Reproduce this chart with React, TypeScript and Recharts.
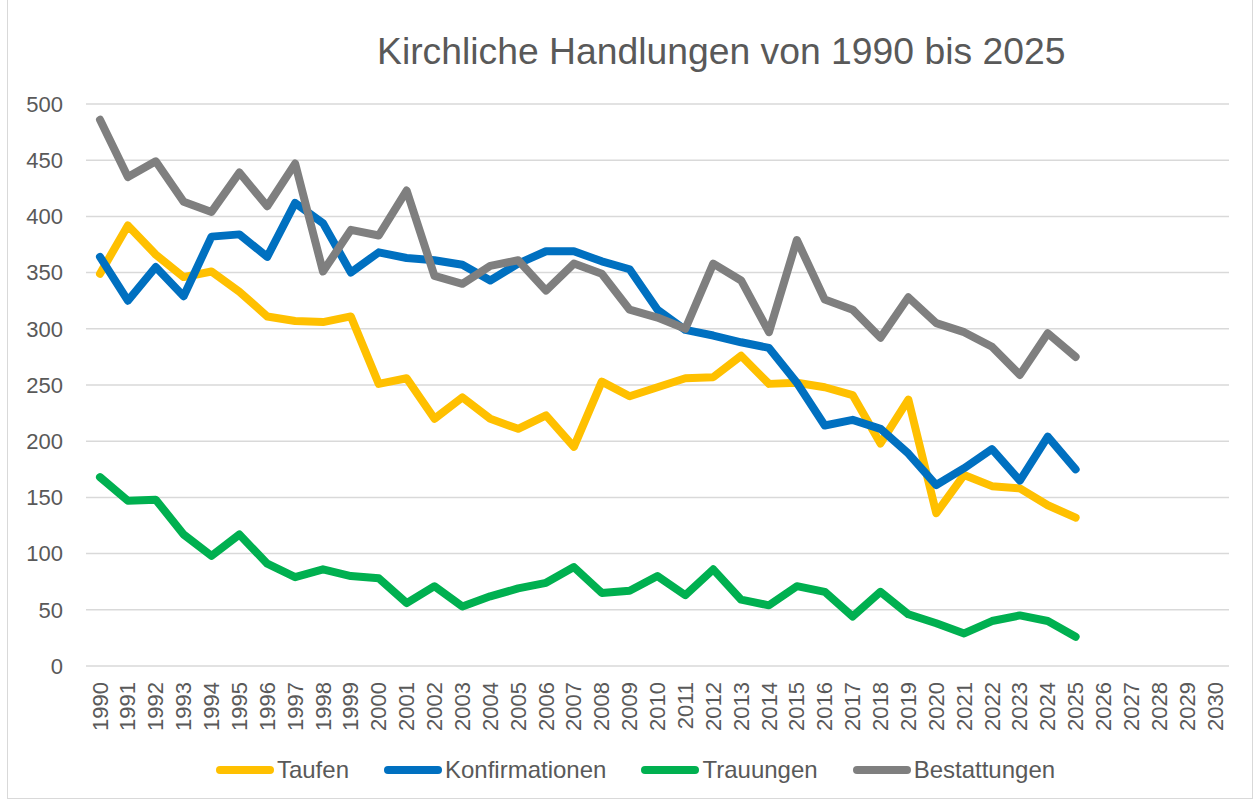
import { LineChart, Line, XAxis, YAxis, CartesianGrid, Legend } from "recharts";

const years = [
  "1990", "1991", "1992", "1993", "1994", "1995", "1996", "1997", "1998", "1999",
  "2000", "2001", "2002", "2003", "2004", "2005", "2006", "2007", "2008", "2009",
  "2010", "2011", "2012", "2013", "2014", "2015", "2016", "2017", "2018", "2019",
  "2020", "2021", "2022", "2023", "2024", "2025", "2026", "2027", "2028", "2029", "2030",
];

const taufen = [
  349, 392, 366, 346, 351, 333, 311, 307, 306, 311,
  251, 256, 220, 239, 220, 211, 223, 195, 253, 240,
  248, 256, 257, 276, 251, 252, 248, 241, 198, 237,
  136, 170, 160, 158, 143, 132,
];

const konfirmationen = [
  364, 325, 355, 329, 382, 384, 364, 412, 394, 350,
  368, 363, 361, 357, 343, 358, 369, 369, 360, 353,
  317, 299, 294, 288, 283, 252, 214, 219, 211, 189,
  161, 176, 193, 165, 204, 175,
];

const trauungen = [
  168, 147, 148, 117, 98, 117, 91, 79, 86, 80,
  78, 56, 71, 53, 62, 69, 74, 88, 65, 67,
  80, 63, 86, 59, 54, 71, 66, 44, 66, 46,
  38, 29, 40, 45, 40, 26,
];

const bestattungen = [
  486, 435, 449, 413, 404, 439, 409, 447, 351, 388,
  383, 423, 347, 340, 356, 361, 334, 358, 349, 317,
  310, 300, 358, 343, 297, 379, 326, 317, 292, 328,
  305, 297, 284, 259, 296, 275,
];

const yTicks = [0, 50, 100, 150, 200, 250, 300, 350, 400, 450, 500];

const series = [
  { key: "Taufen", color: "#FFC000" },
  { key: "Konfirmationen", color: "#0070C0" },
  { key: "Trauungen", color: "#00B050" },
  { key: "Bestattungen", color: "#7F7F7F" },
];

const data = years.map((year, i) => ({
  year,
  Taufen: taufen[i] ?? null,
  Konfirmationen: konfirmationen[i] ?? null,
  Trauungen: trauungen[i] ?? null,
  Bestattungen: bestattungen[i] ?? null,
}));

const font = '"Liberation Sans", Arial, sans-serif';
const textColor = "#595959";

function YearTick(props: any) {
  const { x, y, payload } = props;
  return (
    <g transform={`translate(${x},${y})`}>
      <text
        transform="rotate(-90)"
        textAnchor="end"
        dominantBaseline="central"
        fill={textColor}
        fontSize={22}
        fontFamily={font}
      >
        {payload.value}
      </text>
    </g>
  );
}

function LegendContent() {
  return (
    <div style={{ display: "flex", justifyContent: "center", alignItems: "center", gap: 34 }}>
      {series.map((s) => (
        <div key={s.key} style={{ display: "flex", alignItems: "center" }}>
          <svg width={60} height={12}>
            <line x1={5} y1={6} x2={55} y2={6} stroke={s.color} strokeWidth={8} strokeLinecap="round" />
          </svg>
          <span style={{ fontFamily: font, fontSize: 24, color: textColor, marginLeft: 2 }}>{s.key}</span>
        </div>
      ))}
    </div>
  );
}

export default function App() {
  return (
    <div style={{ position: "absolute", left: 0, top: 0, width: 1256, height: 803, background: "#fff" }}>
      <div
        style={{
          position: "absolute",
          left: 7,
          top: -1,
          width: 1246,
          height: 800,
          border: "1px solid #D9D9D9",
          boxSizing: "border-box",
        }}
      />
      <div
        style={{
          position: "absolute",
          left: 377,
          top: 25,
          fontFamily: font,
          fontSize: 37.3,
          color: textColor,
          whiteSpace: "nowrap",
          lineHeight: "52px",
        }}
      >
        Kirchliche Handlungen von 1990 bis 2025
      </div>
      <LineChart
        width={1256}
        height={803}
        data={data}
        margin={{ top: 104, right: 27, left: 0, bottom: 67 }}
      >
        <CartesianGrid vertical={false} stroke="#D9D9D9" strokeWidth={1.5} />
        <XAxis
          dataKey="year"
          interval={0}
          padding={{ left: 14, right: 14 }}
          tickLine={false}
          axisLine={false}
          tickSize={0}
          tickMargin={16}
          height={70}
          tick={<YearTick />}
        />
        <YAxis
          domain={[0, 500]}
          ticks={yTicks}
          width={86}
          tickLine={false}
          axisLine={false}
          tickSize={0}
          tickMargin={23}
          tick={{ fill: textColor, fontSize: 22, fontFamily: font }}
        />
        <Legend
          layout="horizontal"
          verticalAlign="middle"
          align="center"
          content={<LegendContent />}
          wrapperStyle={{ top: 756, left: 7, width: 1256 }}
        />
        {series.map((s) => (
          <Line
            key={s.key}
            dataKey={s.key}
            stroke={s.color}
            strokeWidth={8}
            strokeLinecap="round"
            strokeLinejoin="round"
            dot={false}
            activeDot={false}
            isAnimationActive={false}
          />
        ))}
      </LineChart>
    </div>
  );
}
